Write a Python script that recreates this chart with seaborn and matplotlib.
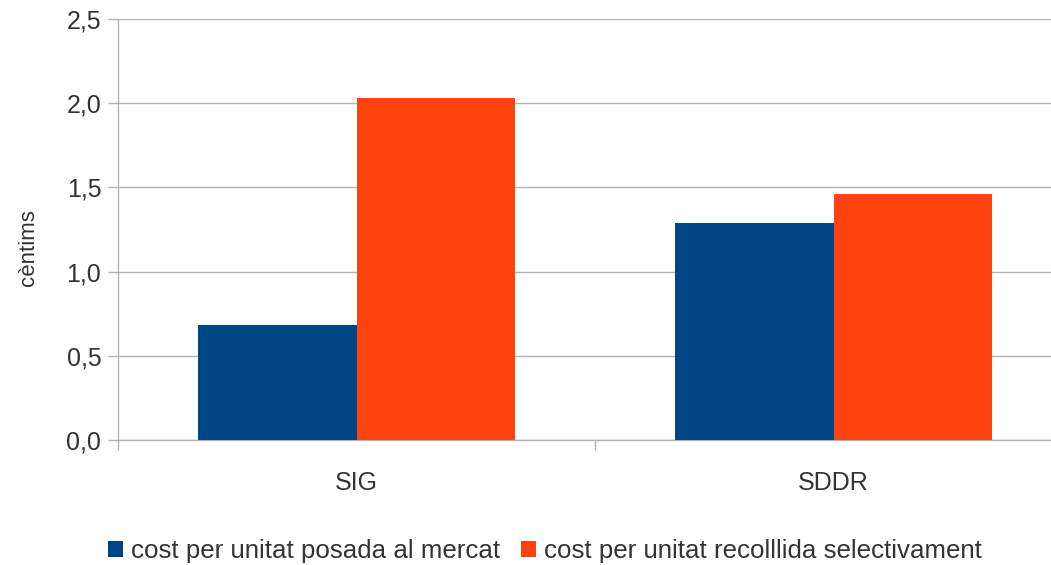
import pandas as pd
import numpy as np
import matplotlib.pyplot as plt
import seaborn as sns
from matplotlib.ticker import FuncFormatter, FixedLocator

# dades llegides del grafic
categories = ["SIG", "SDDR"]
series = ["cost per unitat posada al mercat", "cost per unitat recolllida selectivament"]
posada = [0.68, 1.29]
recollida = [2.03, 1.46]
colors = ["#004586", "#ff420e"]

df = pd.DataFrame({
    "sistema": categories * 2,
    "serie": [series[0]] * 2 + [series[1]] * 2,
    "cost": posada + recollida,
})

sns.set_style("white")
plt.rcParams["font.family"] = ["Liberation Sans", "DejaVu Sans"]

fig = plt.figure(figsize=(10.51, 5.65), dpi=100)
ax = fig.add_axes([118 / 1051, 1 - 440 / 565, (1072 - 118) / 1051, (440 - 19) / 565])

sns.barplot(data=df, x="sistema", y="cost", hue="serie", palette=colors,
            width=0.664, saturation=1, linewidth=0, ax=ax, zorder=3)

grid_c = "#b3b3b3"
txt_c = "#333333"
ax.set_ylim(0, 2.5)
ax.set_xlim(-0.5, 1.5)
ax.set_yticks(np.arange(0, 2.51, 0.5))
ax.yaxis.set_major_formatter(FuncFormatter(lambda v, p: f"{v:.1f}".replace(".", ",")))
ax.yaxis.grid(True, color=grid_c, linewidth=1, zorder=0)
ax.tick_params(axis="y", length=7, width=1, color=grid_c, pad=5, labelsize=18, labelcolor=txt_c, left=True)
ax.tick_params(axis="x", which="major", length=0, pad=22, labelsize=18, labelcolor=txt_c)
ax.xaxis.set_minor_locator(FixedLocator([-0.5, 0.5, 1.5]))
ax.tick_params(axis="x", which="minor", length=7, width=1, color=grid_c, bottom=True)

for s in ["top", "right"]:
    ax.spines[s].set_visible(False)
for s in ["left", "bottom"]:
    ax.spines[s].set_color(grid_c)
    ax.spines[s].set_linewidth(1)

ax.set_xlabel("")
ax.set_ylabel("cèntims", fontsize=16, color=txt_c)
ax.yaxis.set_label_coords(-0.083, 0.458)

ax.legend(loc="center", bbox_to_anchor=(545 / 1051, 1 - 551 / 565), bbox_transform=fig.transFigure,
          ncol=2, frameon=False, fontsize=18.6, handlelength=0.6, handleheight=0.6,
          handletextpad=0.3, columnspacing=0.8, labelcolor=txt_c)

fig.savefig("out.png", dpi=100)
